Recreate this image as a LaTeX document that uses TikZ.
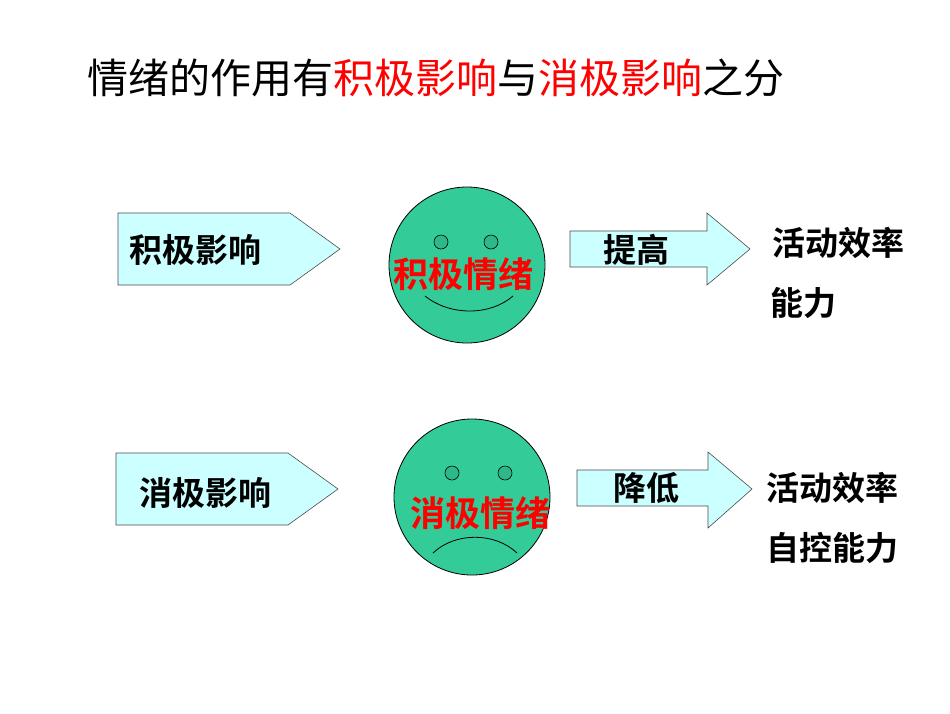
\documentclass[tikz,border=0pt]{standalone}
\usepackage{fontspec}
\newfontfamily\cjk{Noto Sans CJK SC}
\newfontfamily\cjkb{Noto Sans CJK SC Bold}
\definecolor{facegreen}{RGB}{51,204,153}
\definecolor{boxcyan}{RGB}{204,255,255}
\begin{document}
\begin{tikzpicture}[x=1pt,y=-1pt,
  box/.style={draw=black!70,fill=boxcyan,line width=0.6pt},
  face/.style={draw=black,fill=facegreen,line width=0.8pt},
  eye/.style={draw=black,fill=facegreen!90!black,line width=0.6pt},
  lbl/.style={font=\cjkb\fontsize{33}{36}\selectfont},
  red/.style={text=red,font=\cjkb\fontsize{35}{38}\selectfont}]
\useasboundingbox (0,0) rectangle (950,713);
\fill[white] (0,0) rectangle (950,713);
\node[font=\cjk\fontsize{41}{45}\selectfont,anchor=west] (title) at (84,78) {情绪的作用有\textcolor{red}{积极影响}与\textcolor{red}{消极影响}之分};
% top row
\draw[box] (118,213) -- (290,213) -- (340,249) -- (290,285) -- (118,285) -- cycle;
\node[lbl] (a1) at (195,250) {积极影响};
\draw[face] (467,265) circle (78);
\draw[eye] (441,242) circle (7);
\draw[eye] (491,242) circle (7);
\draw[line width=0.8pt] (425,296) .. controls (450,316) and (490,316) .. (513,296);
\node[red] (e1) at (463,274) {积极情绪};
\draw[box] (570,231) -- (707,231) -- (707,213) -- (750,249) -- (707,285) -- (707,267) -- (570,267) -- cycle;
\node[lbl] (t1) at (636,250) {提高};
\node[lbl] (r1) at (838,243) {活动效率};
\node[lbl] (r2) at (803,303) {能力};
% bottom row
\draw[box] (116,453) -- (288,453) -- (338,489) -- (288,525) -- (116,525) -- cycle;
\node[lbl] (a2) at (205,493) {消极影响};
\draw[face] (472,497) circle (78);
\draw[eye] (452,473) circle (7);
\draw[eye] (505,473) circle (7);
\draw[line width=0.8pt] (433,553) .. controls (455,532) and (495,532) .. (517,553);
\node[red] (e2) at (480,513) {消极情绪};
\draw[box] (577,470) -- (708,470) -- (708,452) -- (752,489) -- (708,528) -- (708,506) -- (577,506) -- cycle;
\node[lbl] (t2) at (646,488) {降低};
\node[lbl] (r3) at (832,488) {活动效率};
\node[lbl] (r4) at (832,548) {自控能力};
\end{tikzpicture}
\end{document}
